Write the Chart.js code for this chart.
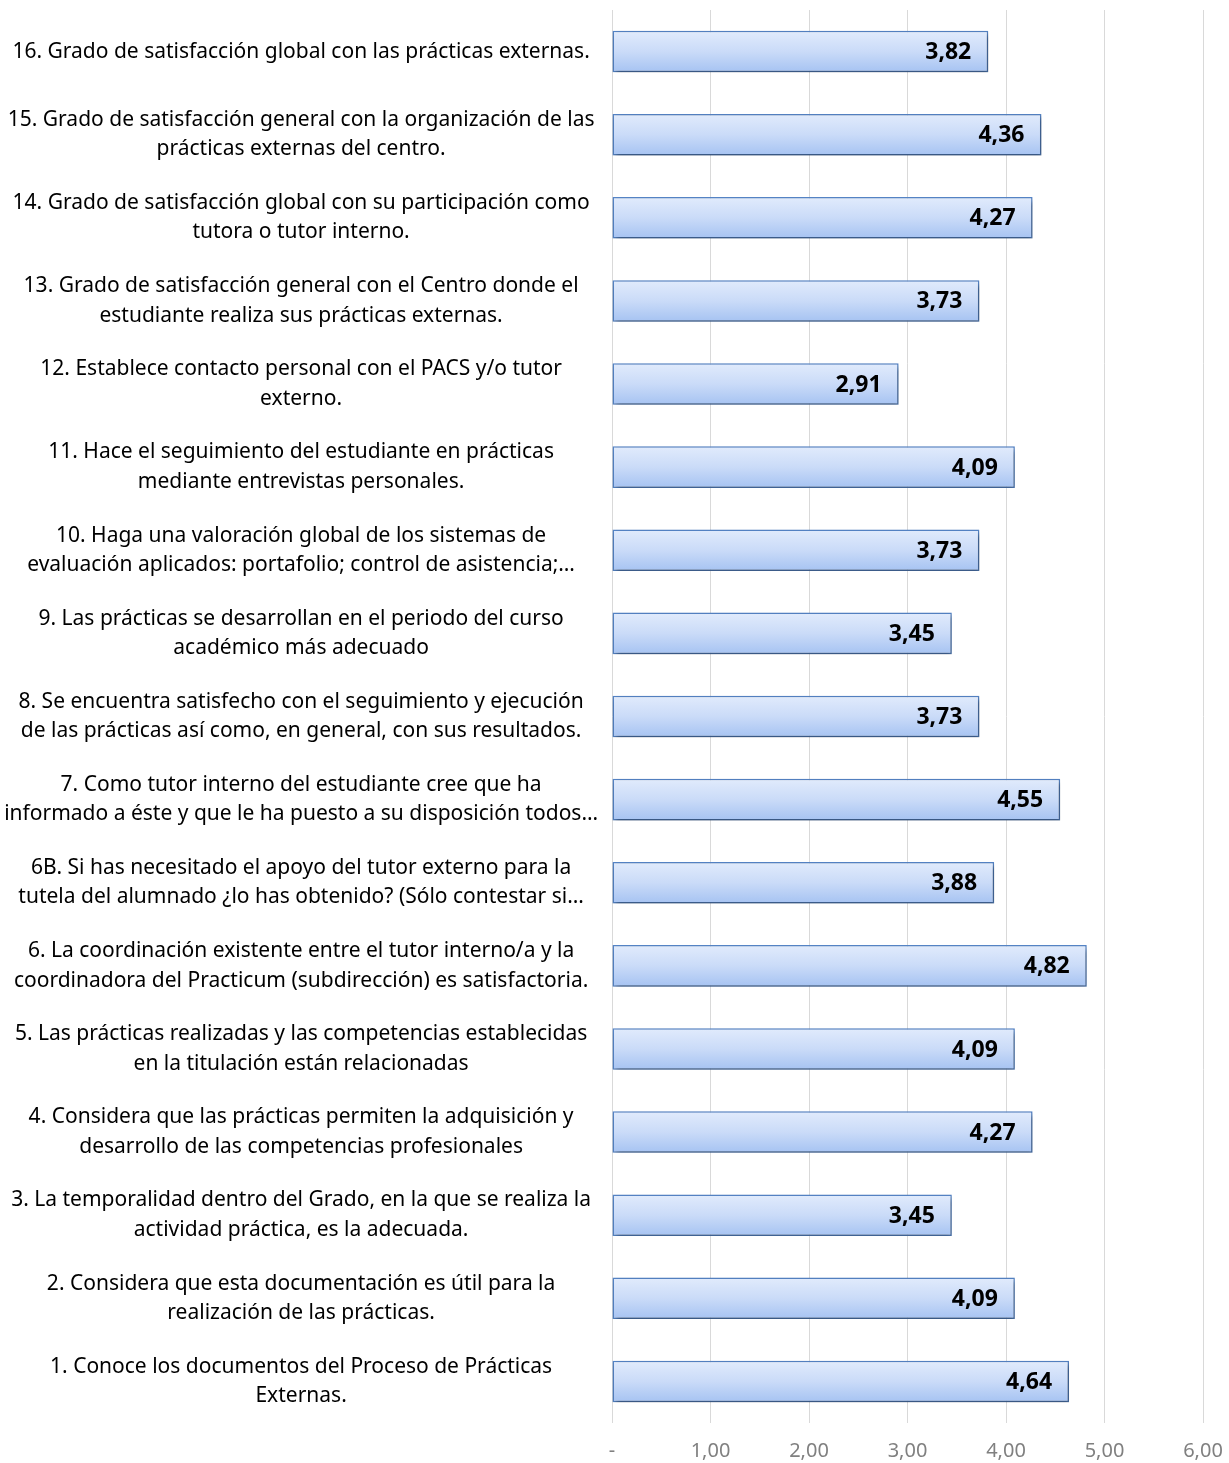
<!DOCTYPE html>
<html>
<head>
<meta charset="utf-8">
<script src="https://cdn.jsdelivr.net/npm/chart.js@4.4.1/dist/chart.umd.min.js"></script>
<style>
  html, body { margin: 0; padding: 0; background: #ffffff; }
  #wrap { width: 1229px; height: 1463px; }
</style>
</head>
<body>
<div id="wrap"><canvas id="survey" width="1229" height="1463"></canvas></div>
<script>
const questions = [
  ["16. Grado de satisfacción global con las prácticas externas."],
  ["15. Grado de satisfacción general con la organización de las", "prácticas externas del centro."],
  ["14. Grado de satisfacción global con su participación como", "tutora o tutor interno."],
  ["13. Grado de satisfacción general con el Centro donde el", "estudiante realiza sus prácticas externas."],
  ["12. Establece contacto personal con el PACS y/o tutor", "externo."],
  ["11. Hace el seguimiento del estudiante en prácticas", "mediante entrevistas personales."],
  ["10. Haga una valoración global de los sistemas de", "evaluación aplicados: portafolio; control de asistencia;…"],
  ["9. Las prácticas se desarrollan en el periodo del curso", "académico más adecuado"],
  ["8. Se encuentra satisfecho con el seguimiento y ejecución", "de las prácticas así como, en general, con sus resultados."],
  ["7. Como tutor interno del estudiante cree que ha", "informado a éste y que le ha puesto a su disposición todos…"],
  ["6B. Si has necesitado el apoyo del tutor externo para la", "tutela del alumnado ¿lo has obtenido? (Sólo contestar si…"],
  ["6. La coordinación existente entre el tutor interno/a y la", "coordinadora del Practicum (subdirección) es satisfactoria."],
  ["5. Las prácticas realizadas y las competencias establecidas", "en la titulación están relacionadas"],
  ["4. Considera que las prácticas permiten la adquisición y", "desarrollo de las competencias profesionales"],
  ["3. La temporalidad dentro del Grado, en la que se realiza la", "actividad práctica, es la adecuada."],
  ["2. Considera que esta documentación es útil para la", "realización de las prácticas."],
  ["1. Conoce los documentos del Proceso de Prácticas", "Externas."],
];
const scores = [3.82, 4.36, 4.27, 3.73, 2.91, 4.09, 3.73, 3.45, 3.73, 4.55, 3.88, 4.82, 4.09, 4.27, 3.45, 4.09, 4.64];
const tickLabels = ["-", "1,00", "2,00", "3,00", "4,00", "5,00", "6,00"];

const LABEL_FONT = "'Noto Sans'";

// bars get a vertical gradient (light top, darker blue bottom) and a soft shadow
const barLook = {
  id: "barLook",
  beforeDatasetsDraw(chart) {
    const c = chart.ctx;
    chart.getDatasetMeta(0).data.forEach((bar) => {
      const { y, height } = bar.getProps(["y", "height"], true);
      if (!isFinite(y) || !isFinite(height)) return;
      const g = c.createLinearGradient(0, y - height / 2, 0, y + height / 2);
      g.addColorStop(0, "#e1ebfc");
      g.addColorStop(0.5, "#cadbf8");
      g.addColorStop(1, "#a6c3f2");
      bar.options.backgroundColor = g;
    });
    c.save();
    c.shadowColor = "rgba(0,0,0,0.4)";
    c.shadowBlur = 5;
    c.shadowOffsetX = 2;
    c.shadowOffsetY = 3;
  },
  afterDatasetsDraw(chart) {
    chart.ctx.restore();
  },
};

const valueLabels = {
  id: "valueLabels",
  afterDatasetsDraw(chart) {
    const c = chart.ctx;
    const meta = chart.getDatasetMeta(0);
    c.save();
    c.font = "bold 23px " + LABEL_FONT;
    c.fillStyle = "#000000";
    c.textAlign = "right";
    c.textBaseline = "middle";
    meta.data.forEach((bar, i) => {
      c.fillText(scores[i].toFixed(2).replace(".", ","), bar.x - 17, bar.y + 1);
    });
    c.restore();
  },
};

const chart = new Chart(document.getElementById("survey").getContext("2d"), {
  type: "bar",
  data: {
    labels: questions,
    datasets: [
      {
        data: scores,
        backgroundColor: (ctx) => "#c5d8f7",
        borderColor: "#5584c6",
        borderWidth: 1.5,
        borderSkipped: false,
        barPercentage: 0.5,
        categoryPercentage: 1,
      },
    ],
  },
  options: {
    indexAxis: "y",
    responsive: false,
    animation: false,
    layout: { padding: { top: 10, right: 26, left: 0, bottom: 0 } },
    plugins: {
      legend: { display: false },
      tooltip: { enabled: false },
    },
    scales: {
      x: {
        min: 0,
        max: 6,
        border: { display: false },
        grid: { color: "#d9d9d9", lineWidth: 1, drawTicks: false },
        ticks: {
          stepSize: 1,
          padding: 16,
          color: "#808080",
          font: { family: LABEL_FONT, size: 20 },
          callback: (value, index) => tickLabels[index],
        },
        afterFit(scale) {
          scale.height = 40;
          scale.paddingLeft = 0;
          scale.paddingRight = 0;
        },
      },
      y: {
        border: { display: false },
        grid: { display: false, drawTicks: false },
        ticks: {
          crossAlign: "center",
          padding: 14,
          color: "#000000",
          autoSkip: false,
          font: { family: LABEL_FONT, size: 21, lineHeight: 1.4 },
        },
        afterFit(scale) {
          scale.width = 612;
          scale.paddingTop = 0;
          scale.paddingBottom = 0;
        },
      },
    },
  },
  plugins: [barLook, valueLabels],
});
</script>
</body>
</html>
